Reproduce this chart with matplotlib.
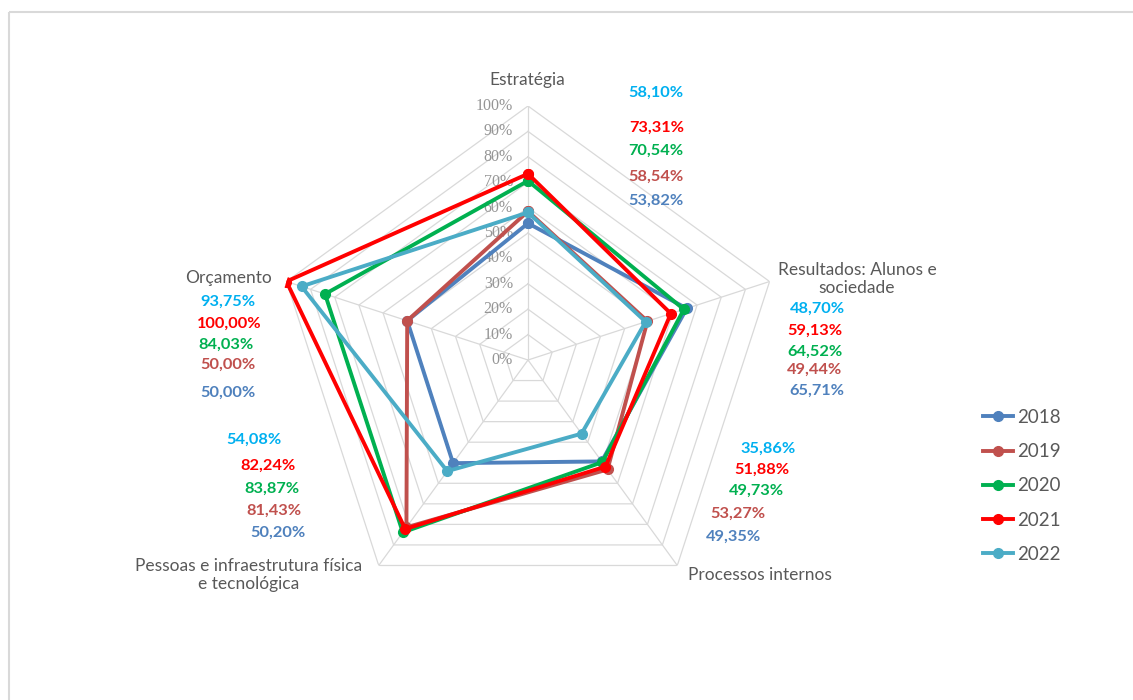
import numpy as np
import matplotlib
matplotlib.use("Agg")
import matplotlib.pyplot as plt
from matplotlib.lines import Line2D
from matplotlib.patches import Rectangle
from matplotlib.transforms import offset_copy

# Dados
categorias = ["Estratégia", "Resultados: Alunos e\nsociedade", "Processos internos",
              "Pessoas e infraestrutura física\ne tecnológica", "Orçamento"]
anos = ["2018", "2019", "2020", "2021", "2022"]
v2018 = [53.82, 65.71, 49.35, 50.20, 50.00]
v2019 = [58.54, 49.44, 53.27, 81.43, 50.00]
v2020 = [70.54, 64.52, 49.73, 83.87, 84.03]
v2021 = [73.31, 59.13, 51.88, 82.24, 100.00]
v2022 = [58.10, 48.70, 35.86, 54.08, 93.75]
ticks = [0, 10, 20, 30, 40, 50, 60, 70, 80, 90, 100]

series = [v2018, v2019, v2020, v2021, v2022]
cores_linha = ["#4F81BD", "#C0504D", "#00B050", "#FF0000", "#4BACC6"]
cores_texto = ["#4F81BD", "#C0504D", "#00B050", "#FF0000", "#00B0F0"]

W, H = 1133, 700
FONT = "Lato"


def px(x, y):
    return x / W, 1 - y / H


fig = plt.figure(figsize=(W / 100, H / 100), dpi=100)
fig.patches.append(Rectangle(px(9, 12), (W + 20) / W, -1.2, transform=fig.transFigure,
                             fill=False, ec="#D9D9D9", lw=1.5))

# eixo polar, centro (528, 360), raio 254 px
cx, cy, r = 528, 360, 254
ax = fig.add_axes([(cx - r) / W, 1 - (cy + r) / H, 2 * r / W, 2 * r / H], projection="polar")
ax.set_theta_offset(np.pi / 2)
ax.set_theta_direction(-1)
ax.set_ylim(0, 100)
ax.grid(False)
ax.set_xticks([])
ax.set_yticks([])
ax.spines["polar"].set_visible(False)
ax.patch.set_alpha(0)

ang = np.linspace(0, 2 * np.pi, len(categorias), endpoint=False)
ang_fechado = np.append(ang, ang[0])

# grade pentagonal
for t in ticks[1:]:
    ax.plot(ang_fechado, [t] * len(ang_fechado), color="#D9D9D9", lw=0.9, zorder=1)
for a in ang:
    ax.plot([a, a], [0, 100], color="#D9D9D9", lw=0.9, zorder=1)

lbl_tr = offset_copy(ax.transData, fig=fig, x=-15, y=0, units="dots")
for t in ticks:
    ax.text(0, t, f"{t}%", transform=lbl_tr, ha="right", va="center",
            fontsize=11.5, family="Liberation Serif", color="#959595", zorder=2)

# series
for vals, cor in zip(series, cores_linha):
    v = vals + vals[:1]
    ax.plot(ang_fechado, v, color=cor, lw=2.8, marker="o", ms=7, zorder=3)

# rotulos das categorias
cat_pos = [(527, 80), (857, 279), (760, 575), (249, 575), (228, 278)]
for nome, (x, y) in zip(categorias, cat_pos):
    fig.text(*px(x, y), nome, ha="center", va="center", fontsize=12.5, family=FONT,
             color="#595959", linespacing=1.2)

# rotulos de valores (ordem: 2022, 2021, 2020, 2019, 2018)
val_pos = [
    [(656, 93), (657, 128), (656, 151), (656, 177), (656, 201)],
    [(817, 309), (815, 331), (815, 352), (815, 370), (817, 391)],
    [(768, 449), (762, 470), (756, 491), (738, 514), (734, 537)],
    [(254, 440), (268, 466), (272, 489), (274, 511), (278, 533)],
    [(228, 302), (229, 324), (226, 345), (228, 365), (228, 393)],
]
for i in range(len(categorias)):
    for k, j in enumerate([4, 3, 2, 1, 0]):
        x, y = val_pos[i][k]
        txt = f"{series[j][i]:.2f}%".replace(".", ",")
        fig.text(*px(x, y), txt, ha="center", va="center", fontsize=11.8, family=FONT,
                 fontweight="bold", color=cores_texto[j])

# legenda
handles = [Line2D([0], [0], color=c, lw=2.8, marker="o", ms=7) for c in cores_linha]
leg = fig.legend(handles, anos, loc="upper left", bbox_to_anchor=px(966, 392), frameon=False,
                 prop={"family": FONT, "size": 13.5}, labelspacing=0.92, handlelength=1.6,
                 handletextpad=0.25)
for t in leg.get_texts():
    t.set_color("#595959")

fig.savefig("out.png", dpi=100)
